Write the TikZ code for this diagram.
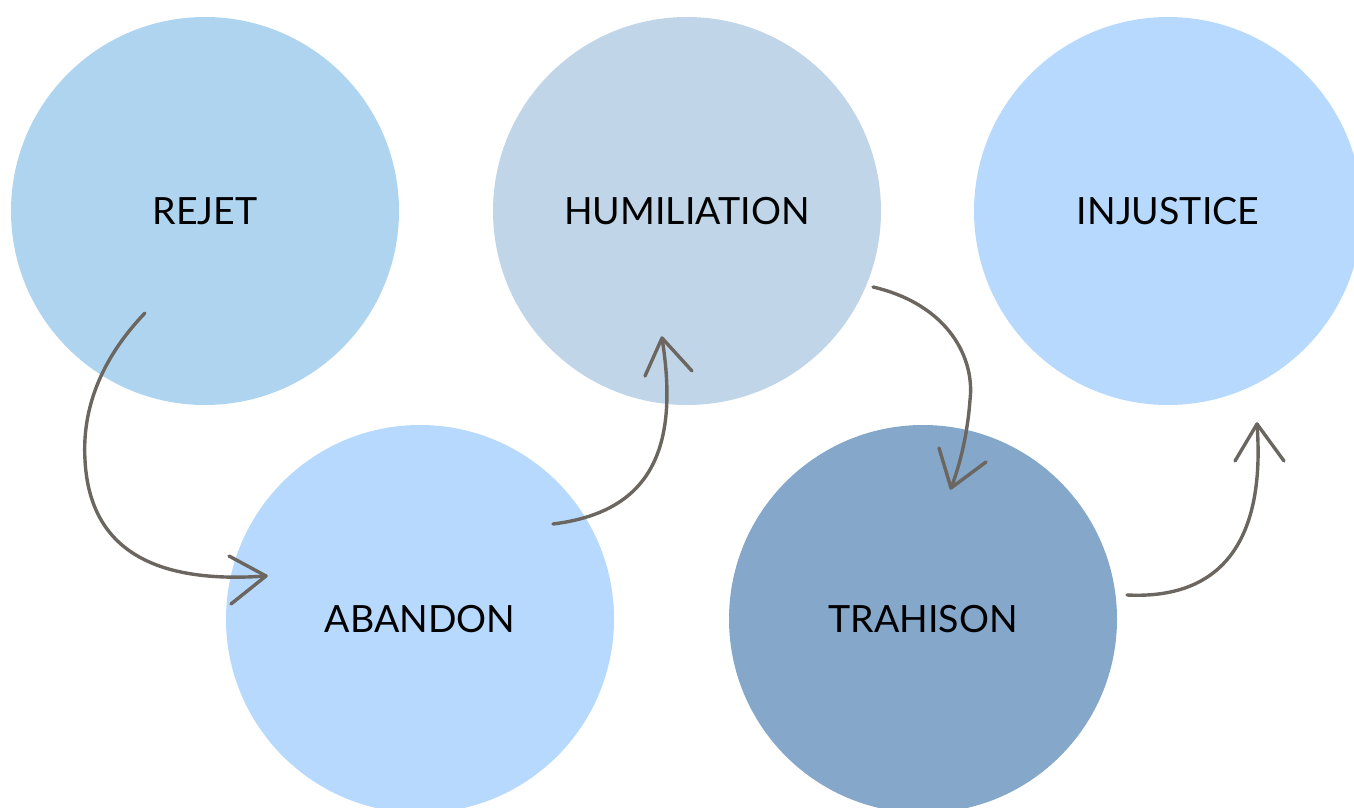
\documentclass[tikz,border=0pt]{standalone}
\usepackage{fontspec}
\setmainfont{Lato}
\definecolor{cRejet}{HTML}{AED4EF}
\definecolor{cHum}{HTML}{C0D6E8}
\definecolor{cLight}{HTML}{B7D9FD}
\definecolor{cTra}{HTML}{84A7CA}
\definecolor{cArrow}{HTML}{6B665F}
\tikzset{
  bubble/.style={circle, minimum size=388pt, inner sep=0pt, text=black, font=\fontsize{37.5}{42}\selectfont},
  conn/.style={draw=cArrow, line width=3.4pt, line cap=round, line join=round},
}
\begin{document}
\begin{tikzpicture}[x=1pt,y=-1pt]
\useasboundingbox (0,0) rectangle (1354,808);
\clip (0,0) rectangle (1354,808);
\node[bubble, fill=cRejet] (rejet) at (205,211) {REJET};
\node[bubble, fill=cHum] (hum) at (687,211) {HUMILIATION};
\node[bubble, fill=cLight] (inj) at (1168,211) {INJUSTICE};
\node[bubble, fill=cLight] (aban) at (420,619) {ABANDON};
\node[bubble, fill=cTra] (tra) at (923,619) {TRAHISON};
% arrow 1
\coordinate (a1s) at (145,313);
\coordinate (a1t) at (266,576);
\coordinate (a1u) at (229,556);
\coordinate (a1d) at (231,604);
\draw[conn] (a1s) .. controls (100,360) and (82,410) .. (85,460) .. controls (90,560) and (170,583) .. (a1t);
\draw[conn] (a1u) -- (a1t) -- (a1d);
% arrow 2
\coordinate (a2s) at (553,524);
\coordinate (a2t) at (662,338);
\coordinate (a2l) at (645,376);
\coordinate (a2r) at (692,371);
\draw[conn] (a2s) .. controls (650,512) and (680,450) .. (a2t);
\draw[conn] (a2l) -- (a2t) -- (a2r);
% arrow 3
\coordinate (a3s) at (873,287);
\coordinate (a3t) at (951,488);
\coordinate (a3l) at (939,448);
\coordinate (a3r) at (986,462);
\draw[conn] (a3s) .. controls (950,305) and (975,360) .. (970,400) .. controls (967,440) and (958,470) .. (a3t);
\draw[conn] (a3l) -- (a3t) -- (a3r);
% arrow 4
\coordinate (a4s) at (1127,595);
\coordinate (a4t) at (1257,424);
\coordinate (a4l) at (1235,461);
\coordinate (a4r) at (1284,461);
\draw[conn] (a4s) .. controls (1230,600) and (1265,530) .. (a4t);
\draw[conn] (a4l) -- (a4t) -- (a4r);
\end{tikzpicture}
\end{document}
